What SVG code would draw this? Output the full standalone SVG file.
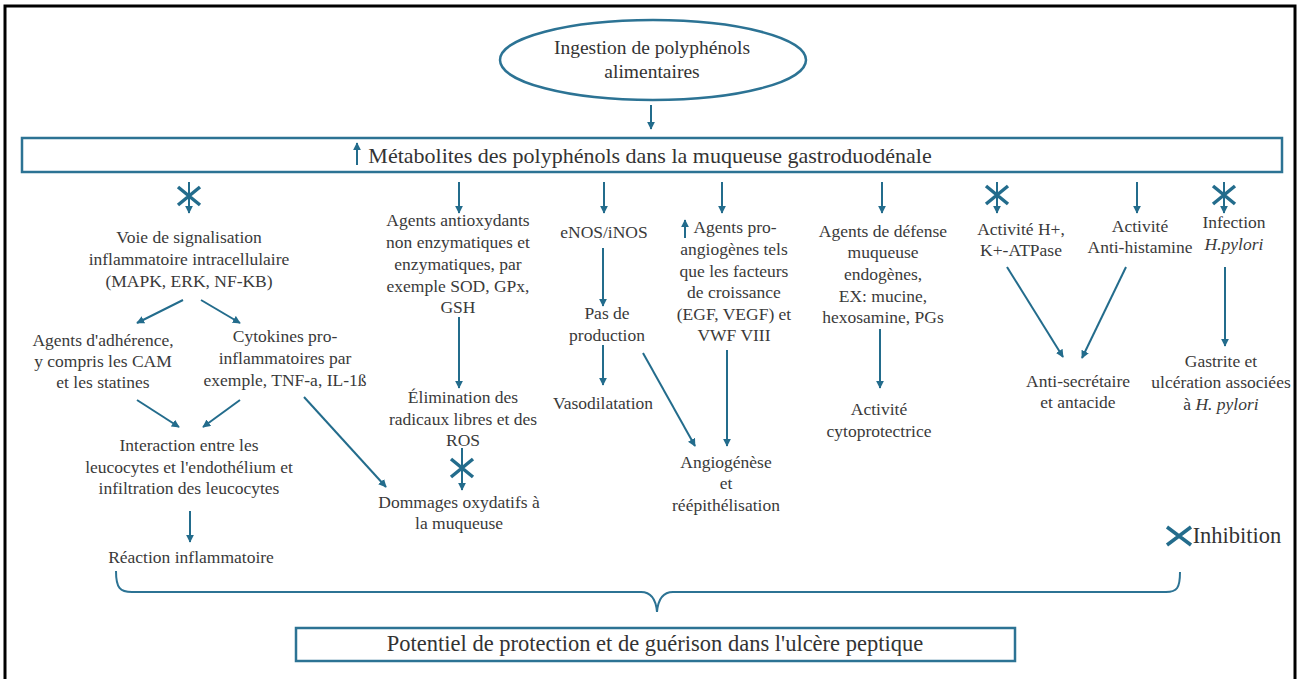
<svg xmlns="http://www.w3.org/2000/svg" width="1301" height="679" viewBox="0 0 1301 679">
<defs>
<marker id="ah" viewBox="0 0 10 10" refX="9" refY="5" markerWidth="8" markerHeight="8" markerUnits="userSpaceOnUse" orient="auto"><path d="M0,0 L10,5 L0,10 z" fill="#236c8c"/></marker>
<style>
.t{font-family:"Liberation Serif","DejaVu Serif",serif;font-size:17.5px;fill:#3a3a3a;text-anchor:middle}
.big{font-family:"Liberation Serif","DejaVu Serif",serif;fill:#333;text-anchor:middle}
.c{stroke:#236c8c;stroke-width:2;fill:none;marker-end:url(#ah)}
.x{stroke:#236c8c;stroke-width:3.5;fill:none}
.box{fill:#fff;stroke:#2c7394;stroke-width:2.5}
</style>
</defs>
<rect x="0" y="0" width="1301" height="679" fill="#fff"/>
<rect x="5" y="6" width="1290" height="690" fill="none" stroke="#000" stroke-width="3"/>

<g id="ingestion">
<ellipse cx="653" cy="60" rx="153" ry="40" class="box"/>
<text class="big" font-size="19.5" x="652" y="54">Ingestion de polyphénols</text>
<text class="big" font-size="19.5" x="652" y="78">alimentaires</text>
</g>

<g id="metabolites">
<rect x="22" y="138" width="1260" height="34" class="box"/>
<text class="big" font-size="22" x="650" y="163">Métabolites des polyphénols dans la muqueuse gastroduodénale</text>
</g>

<g id="voie">
<text class="t" x="189" y="243">Voie de signalisation</text>
<text class="t" x="189" y="265">inflammatoire intracellulaire</text>
<text class="t" x="189" y="287">(MAPK, ERK, NF-KB)</text>
</g>
<g id="adherence">
<text class="t" x="103" y="346">Agents d'adhérence,</text>
<text class="t" x="103" y="367">y compris les CAM</text>
<text class="t" x="103" y="388">et les statines</text>
</g>
<g id="cytokines">
<text class="t" x="285" y="342">Cytokines pro-</text>
<text class="t" x="285" y="364">inflammatoires par</text>
<text class="t" x="285" y="386">exemple, TNF-a, IL-1ß</text>
</g>
<g id="interaction">
<text class="t" x="189" y="451">Interaction entre les</text>
<text class="t" x="189" y="473">leucocytes et l'endothélium et</text>
<text class="t" x="189" y="494">infiltration des leucocytes</text>
</g>
<g id="reaction">
<text class="t" x="191" y="563">Réaction inflammatoire</text>
</g>

<g id="antioxydants">
<text class="t" x="458" y="226">Agents antioxydants</text>
<text class="t" x="458" y="248">non enzymatiques et</text>
<text class="t" x="458" y="270">enzymatiques, par</text>
<text class="t" x="458" y="292">exemple SOD, GPx,</text>
<text class="t" x="458" y="313">GSH</text>
</g>
<g id="elimination">
<text class="t" x="463" y="403">Élimination des</text>
<text class="t" x="463" y="425">radicaux libres et des</text>
<text class="t" x="463" y="446">ROS</text>
</g>
<g id="dommages">
<text class="t" x="459" y="508">Dommages oxydatifs à</text>
<text class="t" x="459" y="529">la muqueuse</text>
</g>

<g id="enos">
<text class="t" x="604" y="238">eNOS/iNOS</text>
</g>
<g id="pasdeproduction">
<text class="t" x="607" y="319">Pas de</text>
<text class="t" x="607" y="341">production</text>
</g>
<g id="vasodilatation">
<text class="t" x="603" y="409">Vasodilatation</text>
</g>

<g id="proangiogenes">
<text class="t" x="735" y="233">Agents pro-</text>
<text class="t" x="734" y="255">angiogènes tels</text>
<text class="t" x="734" y="277">que les facteurs</text>
<text class="t" x="734" y="298">de croissance</text>
<text class="t" x="734" y="320">(EGF, VEGF) et</text>
<text class="t" x="734" y="341">VWF VIII</text>
</g>
<g id="angiogenese">
<text class="t" x="726" y="468">Angiogénèse</text>
<text class="t" x="726" y="489">et</text>
<text class="t" x="726" y="511">réépithélisation</text>
</g>

<g id="defense">
<text class="t" x="883" y="237">Agents de défense</text>
<text class="t" x="883" y="258">muqueuse</text>
<text class="t" x="883" y="280">endogènes,</text>
<text class="t" x="883" y="302">EX: mucine,</text>
<text class="t" x="883" y="323">hexosamine, PGs</text>
</g>
<g id="cytoprotectrice">
<text class="t" x="879" y="415">Activité</text>
<text class="t" x="879" y="437">cytoprotectrice</text>
</g>

<g id="atpase">
<text class="t" x="1021" y="235">Activité H+,</text>
<text class="t" x="1021" y="256">K+-ATPase</text>
</g>
<g id="antihistamine">
<text class="t" x="1140" y="232">Activité</text>
<text class="t" x="1140" y="253">Anti-histamine</text>
</g>
<g id="antisecretaire">
<text class="t" x="1078" y="387">Anti-secrétaire</text>
<text class="t" x="1078" y="408">et antacide</text>
</g>
<g id="infection">
<text class="t" x="1234" y="228">Infection</text>
<text class="t" x="1234" y="250" font-style="italic">H.pylori</text>
</g>
<g id="gastrite">
<text class="t" x="1221" y="367">Gastrite et</text>
<text class="t" x="1221" y="388">ulcération associées</text>
<text class="t" x="1221" y="410">à <tspan font-style="italic">H. pylori</tspan></text>
</g>

<g id="legend">
<path class="x" d="M1167,527 L1191,545 M1191,527 L1167,545" stroke-width="3"/>
<text class="big" font-size="22.5" x="1237" y="543">Inhibition</text>
</g>

<g id="potentiel">
<rect x="296" y="628" width="719" height="33" class="box"/>
<text class="big" font-size="22.5" x="655" y="651">Potentiel de protection et de guérison dans l'ulcère peptique</text>
</g>

<g id="connectors">
<line class="c" x1="651" y1="105" x2="651" y2="129"/>
<line class="c" x1="357" y1="165" x2="357" y2="143"/>
<line class="c" x1="685" y1="238" x2="685" y2="220"/>

<line class="c" x1="189" y1="182" x2="189" y2="213"/>
<path class="x" d="M178,187 L200,205 M200,187 L178,205"/>
<line class="c" x1="183" y1="300" x2="137" y2="323"/>
<line class="c" x1="201" y1="300" x2="240" y2="323"/>
<line class="c" x1="137" y1="400" x2="179" y2="427"/>
<line class="c" x1="240" y1="400" x2="203" y2="427"/>
<line class="c" x1="304" y1="397" x2="386" y2="487"/>
<line class="c" x1="190" y1="511" x2="190" y2="542"/>

<line class="c" x1="459" y1="182" x2="459" y2="213"/>
<line class="c" x1="459" y1="317" x2="459" y2="388"/>
<line class="c" x1="462" y1="448" x2="462" y2="490"/>
<path class="x" d="M451,459 L473,477 M473,459 L451,477"/>

<line class="c" x1="604" y1="182" x2="604" y2="213"/>
<line class="c" x1="603" y1="248" x2="603" y2="306"/>
<line class="c" x1="603" y1="345" x2="603" y2="385"/>
<line class="c" x1="643" y1="353" x2="695" y2="446"/>

<line class="c" x1="722" y1="182" x2="722" y2="213"/>
<line class="c" x1="727" y1="350" x2="727" y2="446"/>

<line class="c" x1="882" y1="182" x2="882" y2="213"/>
<line class="c" x1="880" y1="329" x2="880" y2="388"/>

<line class="c" x1="997" y1="182" x2="997" y2="213"/>
<path class="x" d="M986,186 L1008,204 M1008,186 L986,204"/>
<line class="c" x1="1007" y1="267" x2="1063" y2="357"/>
<line class="c" x1="1137" y1="182" x2="1137" y2="213"/>
<line class="c" x1="1126" y1="267" x2="1082" y2="358"/>
<line class="c" x1="1224" y1="182" x2="1224" y2="213"/>
<path class="x" d="M1213,186 L1235,204 M1235,186 L1213,204"/>
<line class="c" x1="1225" y1="267" x2="1225" y2="346"/>

<path d="M116,571 C116,588 120,592 132,592 L641,592 C652,592 656,600 657,612 C658,600 662,592 673,592 L1166,592 C1177,592 1180,588 1180,572" fill="none" stroke="#2c7394" stroke-width="2"/>
</g>
</svg>
